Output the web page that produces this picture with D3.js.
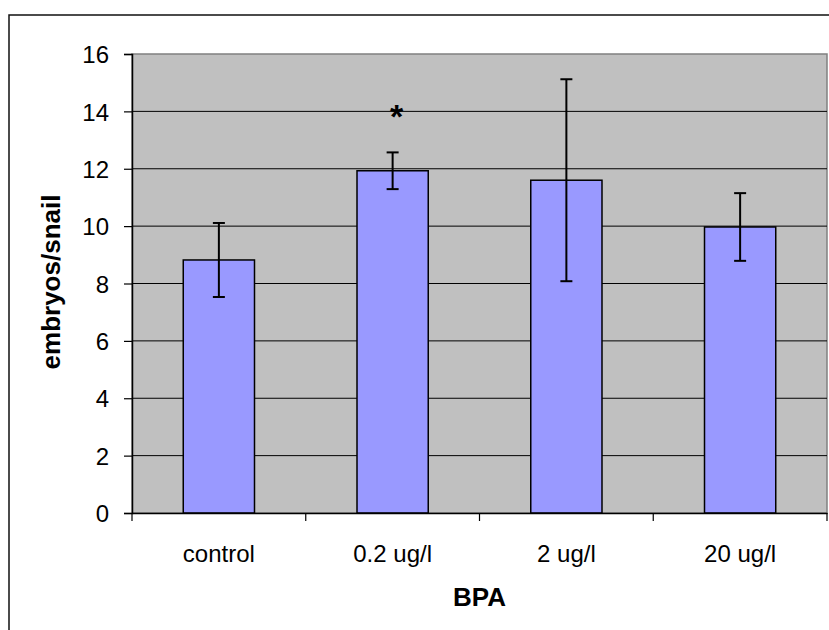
<!DOCTYPE html>
<html>
<head>
<meta charset="utf-8">
<script src="https://cdn.jsdelivr.net/npm/d3@7"></script>
<style>
  body { margin: 0; background: #fff; }
  text { font-family: "Liberation Sans", Arial, sans-serif; fill: #000; }
</style>
</head>
<body>
<div id="chart"></div>
<script>
// values
var categories = ["control", "0.2 ug/l", "2 ug/l", "20 ug/l"];
var means = [8.82, 11.93, 11.6, 9.97];
var errors = [1.29, 0.64, 3.52, 1.18];
var marks = ["", "*", "", ""];
var yTicks = [0, 2, 4, 6, 8, 10, 12, 14, 16];

var svgWidth = 829;
var svgHeight = 630;

var margin = { top: 54, right: 2, bottom: 117, left: 132 };
var width = svgWidth - margin.left - margin.right;
var height = svgHeight - margin.top - margin.bottom;

var data = categories.map(function(c, i) {
  return { cat: c, mean: means[i], err: errors[i], mark: marks[i] };
});

var svg = d3.select("#chart")
  .append("svg")
  .attr("width", svgWidth)
  .attr("height", svgHeight);

// outer chart border (runs off the right and bottom)
svg.append("rect")
  .attr("x", 9)
  .attr("y", 15)
  .attr("width", 900)
  .attr("height", 700)
  .attr("fill", "none")
  .attr("stroke", "#111")
  .attr("stroke-width", 1.5);

var chartGroup = svg.append("g")
  .attr("transform", `translate(${margin.left}, ${margin.top})`);

var xBand = d3.scaleBand()
  .domain(categories)
  .range([0, width])
  .paddingInner(0.59)
  .paddingOuter(0.295);

var yLinearScale = d3.scaleLinear()
  .domain([0, 16])
  .range([height, 0]);

// plot area
chartGroup.append("rect")
  .attr("width", width)
  .attr("height", height)
  .attr("fill", "#c0c0c0")
  .attr("stroke", "#808080")
  .attr("stroke-width", 1.5);

// gridlines
chartGroup.selectAll(".grid")
  .data(yTicks.filter(d => d > 0 && d < 16))
  .enter()
  .append("line")
  .attr("x1", 0)
  .attr("x2", width)
  .attr("y1", d => yLinearScale(d))
  .attr("y2", d => yLinearScale(d))
  .attr("stroke", "#000")
  .attr("stroke-width", 1);

// bars
chartGroup.selectAll(".bar")
  .data(data)
  .enter()
  .append("rect")
  .attr("x", d => xBand(d.cat))
  .attr("y", d => yLinearScale(d.mean))
  .attr("width", xBand.bandwidth())
  .attr("height", d => height - yLinearScale(d.mean))
  .attr("fill", "#9999ff")
  .attr("stroke", "#000")
  .attr("stroke-width", 1.5);

// error bars
var cap = 6;
var errGroup = chartGroup.selectAll(".err")
  .data(data)
  .enter()
  .append("g")
  .attr("stroke", "#000")
  .attr("stroke-width", 2);

errGroup.append("line")
  .attr("x1", d => xBand(d.cat) + xBand.bandwidth() / 2)
  .attr("x2", d => xBand(d.cat) + xBand.bandwidth() / 2)
  .attr("y1", d => yLinearScale(d.mean + d.err))
  .attr("y2", d => yLinearScale(d.mean - d.err));

errGroup.append("line")
  .attr("x1", d => xBand(d.cat) + xBand.bandwidth() / 2 - cap)
  .attr("x2", d => xBand(d.cat) + xBand.bandwidth() / 2 + cap)
  .attr("y1", d => yLinearScale(d.mean + d.err))
  .attr("y2", d => yLinearScale(d.mean + d.err));

errGroup.append("line")
  .attr("x1", d => xBand(d.cat) + xBand.bandwidth() / 2 - cap)
  .attr("x2", d => xBand(d.cat) + xBand.bandwidth() / 2 + cap)
  .attr("y1", d => yLinearScale(d.mean - d.err))
  .attr("y2", d => yLinearScale(d.mean - d.err));

// significance marks
chartGroup.selectAll(".mark")
  .data(data.filter(d => d.mark))
  .enter()
  .append("text")
  .attr("x", d => xBand(d.cat) + xBand.bandwidth() / 2 + 4)
  .attr("y", d => yLinearScale(d.mean + d.err) - 24)
  .attr("text-anchor", "middle")
  .attr("font-size", "34px")
  .attr("font-weight", "bold")
  .text(d => d.mark);

// y axis
var leftAxis = d3.axisLeft(yLinearScale)
  .tickValues(yTicks)
  .tickSize(8)
  .tickPadding(15);

var yAxisG = chartGroup.append("g").call(leftAxis);
yAxisG.select(".domain").attr("stroke", "#000").attr("stroke-width", 1.5);
yAxisG.selectAll(".tick line").attr("stroke", "#000").attr("stroke-width", 1.2);
yAxisG.selectAll("text")
  .attr("font-size", "24px")
  .attr("font-family", "'Liberation Sans', Arial, sans-serif")
  .attr("dy", "0.36em");

// x axis: labels centred on bands, ticks on band edges
var bottomAxis = d3.axisBottom(xBand)
  .tickSize(0)
  .tickPadding(32);

var xAxisG = chartGroup.append("g")
  .attr("transform", `translate(0, ${height})`)
  .call(bottomAxis);
xAxisG.select(".domain").attr("stroke", "#000").attr("stroke-width", 1.5);
xAxisG.selectAll("text")
  .attr("font-size", "24px")
  .attr("font-family", "'Liberation Sans', Arial, sans-serif");

xAxisG.selectAll(".edge")
  .data(d3.range(categories.length + 1))
  .enter()
  .append("line")
  .attr("x1", i => i * xBand.step())
  .attr("x2", i => i * xBand.step())
  .attr("y1", 0)
  .attr("y2", 8)
  .attr("stroke", "#000")
  .attr("stroke-width", 1.2);

// axis titles
chartGroup.append("text")
  .attr("transform", "rotate(-90)")
  .attr("x", 0 - 282 + margin.top)
  .attr("y", 60 - margin.left)
  .attr("text-anchor", "middle")
  .attr("font-size", "26px")
  .attr("font-weight", "bold")
  .text("embryos/snail");

chartGroup.append("text")
  .attr("x", width / 2)
  .attr("y", 606 - margin.top)
  .attr("text-anchor", "middle")
  .attr("font-size", "26px")
  .attr("font-weight", "bold")
  .text("BPA");
</script>
</body>
</html>
